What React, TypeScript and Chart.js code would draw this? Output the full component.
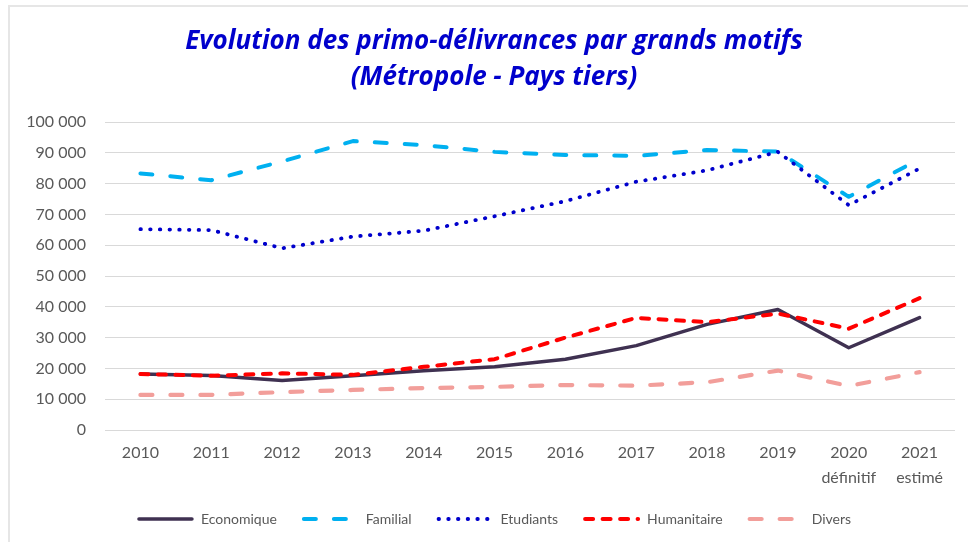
import React, { useEffect, useRef } from "react";
import { Chart, registerables } from "chart.js";

Chart.register(...registerables);

const titleLines = ["Evolution des primo-délivrances par grands motifs", "(Métropole - Pays tiers)"];
const years: (string | string[])[] = ["2010", "2011", "2012", "2013", "2014", "2015", "2016", "2017", "2018", "2019", ["2020", "définitif"], ["2021", "estimé"]];

const economique = [18200, 17700, 16100, 17600, 19200, 20500, 23000, 27400, 34300, 39100, 26700, 36500];
const familial = [83300, 81100, 87200, 93800, 92500, 90300, 89300, 89000, 90900, 90400, 75700, 88000];
const etudiants = [65200, 64900, 59000, 62800, 64700, 69400, 74300, 80600, 84300, 90300, 73000, 84900];
const humanitaire = [18200, 17600, 18400, 17900, 20500, 23000, 30000, 36400, 35000, 37800, 32900, 42800];
const divers = [11400, 11400, 12300, 13000, 13600, 14000, 14600, 14400, 15500, 19300, 14300, 18800];

const seriesNames = ["Economique", "Familial", "Etudiants", "Humanitaire", "Divers"];
const yTicks = [0, 10000, 20000, 30000, 40000, 50000, 60000, 70000, 80000, 90000, 100000];

const fmt = (v: number) => {
  const s = String(Math.round(v));
  return s.replace(/\B(?=(\d{3})+(?!\d))/g, " ");
};

const SAMPLE_W = 57;

const legendLinePlugin = {
  id: "legendLines",
  afterDraw(chart: any) {
    const legend = chart.legend;
    if (!legend || !legend.legendHitBoxes || !legend.legendItems) return;
    const ctx = chart.ctx;
    legend.legendItems.forEach((item: any, i: number) => {
      const hb = legend.legendHitBoxes[i];
      const ds = chart.data.datasets[item.datasetIndex];
      if (!hb || !ds) return;
      const y = hb.top + hb.height / 2;
      ctx.save();
      ctx.strokeStyle = ds.borderColor;
      ctx.lineWidth = ds.borderWidth;
      ctx.lineCap = ds.borderCapStyle || "butt";
      ctx.setLineDash(ds.borderDash || []);
      ctx.beginPath();
      ctx.moveTo(hb.left + 2, y);
      ctx.lineTo(hb.left + SAMPLE_W - 2, y);
      ctx.stroke();
      ctx.restore();
    });
  },
};

export default function App() {
  const ref = useRef<HTMLCanvasElement | null>(null);
  useEffect(() => {
    if (!ref.current) return;
    const common = { pointRadius: 0, pointHoverRadius: 0, tension: 0, fill: false, borderJoinStyle: "round" as const };
    const chart = new Chart(ref.current, {
      type: "line",
      data: {
        labels: years,
        datasets: [
          { ...common, label: seriesNames[0], data: economique, borderColor: "#3f3151", backgroundColor: "#3f3151", borderWidth: 3.5, borderCapStyle: "round", order: 5 },
          { ...common, label: seriesNames[1], data: familial, borderColor: "#00b0f0", backgroundColor: "#00b0f0", borderWidth: 4, borderDash: [12, 18], borderCapStyle: "round", order: 4 },
          { ...common, label: seriesNames[2], data: etudiants, borderColor: "#0000cc", backgroundColor: "#0000cc", borderWidth: 3.8, borderDash: [0.5, 9.2], borderCapStyle: "round", order: 3 },
          { ...common, label: seriesNames[3], data: humanitaire, borderColor: "#ff0000", backgroundColor: "#ff0000", borderWidth: 4, borderDash: [8, 9.5], borderCapStyle: "round", order: 2 },
          { ...common, label: seriesNames[4], data: divers, borderColor: "#f29e9a", backgroundColor: "#f29e9a", borderWidth: 4.2, borderDash: [12, 18], borderCapStyle: "round", order: 1 },
        ],
      },
      options: {
        animation: false,
        responsive: false,
        maintainAspectRatio: false,
        font: { family: "Lato" },
        layout: { padding: { left: 33, right: 13, top: 0, bottom: 6 } },
        plugins: {
          tooltip: { enabled: false },
          title: {
            display: true,
            text: titleLines,
            color: "#0000cc",
            font: { family: "'Open Sans'", size: 26, weight: "bold", style: "italic", lineHeight: 36 / 26 },
            padding: { top: 24, bottom: 26 },
          },
          legend: {
            position: "bottom",
            labels: {
              usePointStyle: true,
              pointStyle: "line",
              pointStyleWidth: SAMPLE_W,
              color: "#595959",
              font: { family: "Lato", size: 14 },
              padding: 25,
              sort: (a: any, b: any) => a.datasetIndex - b.datasetIndex,
              generateLabels: (ch: any) =>
                ch.data.datasets.map((ds: any, i: number) => ({
                  text: ds.label,
                  datasetIndex: i,
                  fillStyle: "rgba(0,0,0,0)",
                  strokeStyle: "rgba(0,0,0,0)",
                  lineWidth: 0,
                  pointStyle: "line",
                  hidden: false,
                  fontColor: "#595959",
                })),
            },
          },
        },
        scales: {
          x: {
            grid: { display: false, drawTicks: false },
            border: { display: false },
            offset: true,
            ticks: {
              color: "#595959",
              font: { family: "Lato", size: 16, lineHeight: 1.5625 },
              padding: 10,
              maxRotation: 0,
              autoSkip: false,
            },
            afterFit: (s: any) => { s.height = 57; },
          },
          y: {
            min: 0,
            max: 100000,
            afterBuildTicks: (s: any) => { s.ticks = yTicks.map((v) => ({ value: v })); },
            grid: { color: "#d9d9d9", lineWidth: 1, drawTicks: false },
            border: { display: false },
            ticks: {
              color: "#595959",
              font: { family: "Lato", size: 16 },
              padding: 19,
              callback: (v: any) => fmt(Number(v)),
            },
            afterFit: (s: any) => {
              s.width = 72;
              s._computeLabelArea = () => undefined;
            },
          },
        },
      },
      plugins: [legendLinePlugin],
    });
    return () => chart.destroy();
  }, []);

  return (
    <div style={{ position: "fixed", left: 0, top: 0, width: 968, height: 542, overflow: "hidden", background: "#ffffff" }}>
      <div style={{ position: "absolute", left: 8, top: 5, width: 1000, height: 600, borderTop: "2px solid #e6e6e6", borderLeft: "2px solid #e6e6e6" }} />
      <canvas ref={ref} width={968} height={542} style={{ position: "absolute", left: 0, top: 0, width: 968, height: 542 }} />
    </div>
  );
}
